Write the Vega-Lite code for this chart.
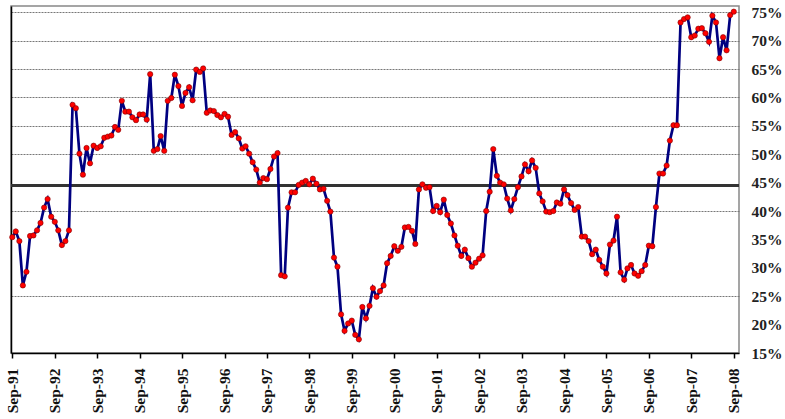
{
  "$schema": "https://vega.github.io/schema/vega-lite/v6.json",
  "autosize": {"type": "none"},
  "padding": {"left": 11, "top": 6, "right": 46, "bottom": 66},
  "width": 728,
  "height": 347,
  "background": "white",
  "config": {"view": {"stroke": "#888888", "strokeWidth": 1.5}},
  "datasets": {
    "series": [
      {"d": "1991-09-01", "v": 35.4}, {"d": "1991-10-01", "v": 36.4}, {"d": "1991-11-01", "v": 34.7}, {"d": "1991-12-01", "v": 26.9},
      {"d": "1992-01-01", "v": 29.3}, {"d": "1992-02-01", "v": 35.6}, {"d": "1992-03-01", "v": 35.7}, {"d": "1992-04-01", "v": 36.6},
      {"d": "1992-05-01", "v": 37.9}, {"d": "1992-06-01", "v": 40.6}, {"d": "1992-07-01", "v": 42.1}, {"d": "1992-08-01", "v": 39.0},
      {"d": "1992-09-01", "v": 38.1}, {"d": "1992-10-01", "v": 36.6}, {"d": "1992-11-01", "v": 34.0}, {"d": "1992-12-01", "v": 34.7},
      {"d": "1993-01-01", "v": 36.6}, {"d": "1993-02-01", "v": 58.7}, {"d": "1993-03-01", "v": 58.1}, {"d": "1993-04-01", "v": 50.1},
      {"d": "1993-05-01", "v": 46.4}, {"d": "1993-06-01", "v": 51.1}, {"d": "1993-07-01", "v": 48.4}, {"d": "1993-08-01", "v": 51.5},
      {"d": "1993-09-01", "v": 51.1}, {"d": "1993-10-01", "v": 51.4}, {"d": "1993-11-01", "v": 52.9}, {"d": "1993-12-01", "v": 53.1},
      {"d": "1994-01-01", "v": 53.3}, {"d": "1994-02-01", "v": 54.8}, {"d": "1994-03-01", "v": 54.3}, {"d": "1994-04-01", "v": 59.4},
      {"d": "1994-05-01", "v": 57.5}, {"d": "1994-06-01", "v": 57.5}, {"d": "1994-07-01", "v": 56.5}, {"d": "1994-08-01", "v": 56.0},
      {"d": "1994-09-01", "v": 57.0}, {"d": "1994-10-01", "v": 57.0}, {"d": "1994-11-01", "v": 56.1}, {"d": "1994-12-01", "v": 64.1},
      {"d": "1995-01-01", "v": 50.6}, {"d": "1995-02-01", "v": 50.9}, {"d": "1995-03-01", "v": 53.2}, {"d": "1995-04-01", "v": 50.6},
      {"d": "1995-05-01", "v": 59.4}, {"d": "1995-06-01", "v": 59.9}, {"d": "1995-07-01", "v": 64.0}, {"d": "1995-08-01", "v": 62.0},
      {"d": "1995-09-01", "v": 58.5}, {"d": "1995-10-01", "v": 60.8}, {"d": "1995-11-01", "v": 61.8}, {"d": "1995-12-01", "v": 59.5},
      {"d": "1996-01-01", "v": 64.9}, {"d": "1996-02-01", "v": 64.5}, {"d": "1996-03-01", "v": 65.1}, {"d": "1996-04-01", "v": 57.3},
      {"d": "1996-05-01", "v": 57.7}, {"d": "1996-06-01", "v": 57.6}, {"d": "1996-07-01", "v": 56.9}, {"d": "1996-08-01", "v": 56.5},
      {"d": "1996-09-01", "v": 57.1}, {"d": "1996-10-01", "v": 56.6}, {"d": "1996-11-01", "v": 53.4}, {"d": "1996-12-01", "v": 53.9},
      {"d": "1997-01-01", "v": 52.8}, {"d": "1997-02-01", "v": 51.0}, {"d": "1997-03-01", "v": 51.4}, {"d": "1997-04-01", "v": 50.1},
      {"d": "1997-05-01", "v": 48.6}, {"d": "1997-06-01", "v": 47.3}, {"d": "1997-07-01", "v": 45.0}, {"d": "1997-08-01", "v": 45.8},
      {"d": "1997-09-01", "v": 45.6}, {"d": "1997-10-01", "v": 47.4}, {"d": "1997-11-01", "v": 49.6}, {"d": "1997-12-01", "v": 50.2},
      {"d": "1998-01-01", "v": 28.7}, {"d": "1998-02-01", "v": 28.5}, {"d": "1998-03-01", "v": 40.6}, {"d": "1998-04-01", "v": 43.3},
      {"d": "1998-05-01", "v": 43.3}, {"d": "1998-06-01", "v": 44.6}, {"d": "1998-07-01", "v": 45.0}, {"d": "1998-08-01", "v": 45.3},
      {"d": "1998-09-01", "v": 44.7}, {"d": "1998-10-01", "v": 45.7}, {"d": "1998-11-01", "v": 44.8}, {"d": "1998-12-01", "v": 43.8},
      {"d": "1999-01-01", "v": 43.9}, {"d": "1999-02-01", "v": 41.8}, {"d": "1999-03-01", "v": 39.9}, {"d": "1999-04-01", "v": 31.8},
      {"d": "1999-05-01", "v": 30.2}, {"d": "1999-06-01", "v": 21.8}, {"d": "1999-07-01", "v": 18.9}, {"d": "1999-08-01", "v": 20.2},
      {"d": "1999-09-01", "v": 20.7}, {"d": "1999-10-01", "v": 18.2}, {"d": "1999-11-01", "v": 17.4}, {"d": "1999-12-01", "v": 23.1},
      {"d": "2000-01-01", "v": 21.1}, {"d": "2000-02-01", "v": 23.3}, {"d": "2000-03-01", "v": 26.4}, {"d": "2000-04-01", "v": 24.9},
      {"d": "2000-05-01", "v": 25.9}, {"d": "2000-06-01", "v": 26.9}, {"d": "2000-07-01", "v": 30.8}, {"d": "2000-08-01", "v": 32.1},
      {"d": "2000-09-01", "v": 33.8}, {"d": "2000-10-01", "v": 33.0}, {"d": "2000-11-01", "v": 33.7}, {"d": "2000-12-01", "v": 37.1},
      {"d": "2001-01-01", "v": 37.2}, {"d": "2001-02-01", "v": 36.5}, {"d": "2001-03-01", "v": 34.2}, {"d": "2001-04-01", "v": 43.8},
      {"d": "2001-05-01", "v": 44.7}, {"d": "2001-06-01", "v": 44.1}, {"d": "2001-07-01", "v": 44.2}, {"d": "2001-08-01", "v": 40.0},
      {"d": "2001-09-01", "v": 40.9}, {"d": "2001-10-01", "v": 39.8}, {"d": "2001-11-01", "v": 42.0}, {"d": "2001-12-01", "v": 39.3},
      {"d": "2002-01-01", "v": 37.8}, {"d": "2002-02-01", "v": 35.7}, {"d": "2002-03-01", "v": 33.9}, {"d": "2002-04-01", "v": 32.1},
      {"d": "2002-05-01", "v": 33.2}, {"d": "2002-06-01", "v": 31.7}, {"d": "2002-07-01", "v": 30.2}, {"d": "2002-08-01", "v": 30.9},
      {"d": "2002-09-01", "v": 31.6}, {"d": "2002-10-01", "v": 32.2}, {"d": "2002-11-01", "v": 40.0}, {"d": "2002-12-01", "v": 43.4},
      {"d": "2003-01-01", "v": 50.9}, {"d": "2003-02-01", "v": 46.2}, {"d": "2003-03-01", "v": 45.0}, {"d": "2003-04-01", "v": 44.7},
      {"d": "2003-05-01", "v": 42.2}, {"d": "2003-06-01", "v": 40.1}, {"d": "2003-07-01", "v": 42.1}, {"d": "2003-08-01", "v": 44.2},
      {"d": "2003-09-01", "v": 46.1}, {"d": "2003-10-01", "v": 48.2}, {"d": "2003-11-01", "v": 47.0}, {"d": "2003-12-01", "v": 48.9},
      {"d": "2004-01-01", "v": 47.6}, {"d": "2004-02-01", "v": 43.1}, {"d": "2004-03-01", "v": 41.7}, {"d": "2004-04-01", "v": 39.9},
      {"d": "2004-05-01", "v": 39.8}, {"d": "2004-06-01", "v": 40.0}, {"d": "2004-07-01", "v": 41.5}, {"d": "2004-08-01", "v": 41.3},
      {"d": "2004-09-01", "v": 43.8}, {"d": "2004-10-01", "v": 42.8}, {"d": "2004-11-01", "v": 41.4}, {"d": "2004-12-01", "v": 40.2},
      {"d": "2005-01-01", "v": 40.7}, {"d": "2005-02-01", "v": 35.5}, {"d": "2005-03-01", "v": 35.5}, {"d": "2005-04-01", "v": 34.7},
      {"d": "2005-05-01", "v": 32.4}, {"d": "2005-06-01", "v": 33.2}, {"d": "2005-07-01", "v": 31.4}, {"d": "2005-08-01", "v": 30.2},
      {"d": "2005-09-01", "v": 29.0}, {"d": "2005-10-01", "v": 34.1}, {"d": "2005-11-01", "v": 34.8}, {"d": "2005-12-01", "v": 39.0},
      {"d": "2006-01-01", "v": 29.2}, {"d": "2006-02-01", "v": 27.9}, {"d": "2006-03-01", "v": 29.9}, {"d": "2006-04-01", "v": 30.5},
      {"d": "2006-05-01", "v": 29.0}, {"d": "2006-06-01", "v": 28.6}, {"d": "2006-07-01", "v": 29.4}, {"d": "2006-08-01", "v": 30.5},
      {"d": "2006-09-01", "v": 33.9}, {"d": "2006-10-01", "v": 33.8}, {"d": "2006-11-01", "v": 40.7}, {"d": "2006-12-01", "v": 46.6},
      {"d": "2007-01-01", "v": 46.6}, {"d": "2007-02-01", "v": 48.0}, {"d": "2007-03-01", "v": 52.4}, {"d": "2007-04-01", "v": 55.1},
      {"d": "2007-05-01", "v": 55.1}, {"d": "2007-06-01", "v": 73.2}, {"d": "2007-07-01", "v": 73.8}, {"d": "2007-08-01", "v": 74.1},
      {"d": "2007-09-01", "v": 70.6}, {"d": "2007-10-01", "v": 70.9}, {"d": "2007-11-01", "v": 72.1}, {"d": "2007-12-01", "v": 72.2},
      {"d": "2008-01-01", "v": 71.3}, {"d": "2008-02-01", "v": 69.8}, {"d": "2008-03-01", "v": 74.4}, {"d": "2008-04-01", "v": 73.2},
      {"d": "2008-05-01", "v": 66.9}, {"d": "2008-06-01", "v": 70.6}, {"d": "2008-07-01", "v": 68.3}, {"d": "2008-08-01", "v": 74.5},
      {"d": "2008-09-01", "v": 75.1}
    ],
    "level": [{"y": 44.5}]
  },
  "layer": [
    {
      "data": {"name": "level"},
      "mark": {"type": "rule", "color": "#333333", "strokeWidth": 3},
      "encoding": {
        "y": {
          "field": "y", "type": "quantitative",
          "scale": {"domain": [15, 76.1], "nice": false, "zero": false},
          "axis": {"orient": "left", "labels": false, "ticks": false, "grid": false, "title": null, "domainColor": "#000000", "domainWidth": 1.5}
        }
      }
    },
    {
      "data": {"name": "series"},
      "mark": {
        "type": "line", "color": "#000080", "strokeWidth": 2.7, "clip": false,
        "point": {"filled": true, "fill": "#ff0000", "size": 28, "stroke": "#800000", "strokeWidth": 0.6, "opacity": 1}
      },
      "encoding": {
        "x": {
          "field": "d", "type": "temporal",
          "scale": {"type": "utc", "domain": [{"year": 1991, "month": 8, "date": 21, "utc": true}, {"year": 2008, "month": 10, "date": 16, "utc": true}]},
          "axis": {
            "title": null, "format": "%b-%y", "grid": false,
            "values": [
              {"year": 1991, "month": 9, "date": 1, "utc": true}, {"year": 1992, "month": 9, "date": 1, "utc": true},
              {"year": 1993, "month": 9, "date": 1, "utc": true}, {"year": 1994, "month": 9, "date": 1, "utc": true},
              {"year": 1995, "month": 9, "date": 1, "utc": true}, {"year": 1996, "month": 9, "date": 1, "utc": true},
              {"year": 1997, "month": 9, "date": 1, "utc": true}, {"year": 1998, "month": 9, "date": 1, "utc": true},
              {"year": 1999, "month": 9, "date": 1, "utc": true}, {"year": 2000, "month": 9, "date": 1, "utc": true},
              {"year": 2001, "month": 9, "date": 1, "utc": true}, {"year": 2002, "month": 9, "date": 1, "utc": true},
              {"year": 2003, "month": 9, "date": 1, "utc": true}, {"year": 2004, "month": 9, "date": 1, "utc": true},
              {"year": 2005, "month": 9, "date": 1, "utc": true}, {"year": 2006, "month": 9, "date": 1, "utc": true},
              {"year": 2007, "month": 9, "date": 1, "utc": true}, {"year": 2008, "month": 9, "date": 1, "utc": true}
            ],
            "labelAngle": 270, "labelFont": "Liberation Serif", "labelFontSize": 15.5, "labelFontWeight": "bold",
            "labelColor": "#111111", "labelPadding": 10, "labelOverlap": false, "labelFlush": false,
            "domainColor": "#000000", "domainWidth": 1.5, "tickColor": "#000000", "tickSize": 5, "tickWidth": 1.5
          }
        },
        "y": {
          "field": "v", "type": "quantitative",
          "scale": {"domain": [15, 76.1], "nice": false, "zero": false},
          "axis": {
            "orient": "right", "title": null, "values": [15, 20, 25, 30, 35, 40, 45, 50, 55, 60, 65, 70, 75],
            "labelExpr": "datum.value + '%'", "labelFont": "Liberation Serif", "labelFontSize": 15.5, "labelFontWeight": "bold",
            "labelColor": "#222222", "labelPadding": 12, "tickSize": 0, "domain": false,
            "grid": true, "gridColor": "#777777", "gridDash": [2, 1], "gridWidth": 1,
            "gridOpacity": {"condition": {"test": "indexof([25, 40, 50, 55, 60, 65, 70, 75], datum.value) >= 0", "value": 1}, "value": 0}
          }
        }
      }
    }
  ],
  "resolve": {"axis": {"y": "independent"}}
}
